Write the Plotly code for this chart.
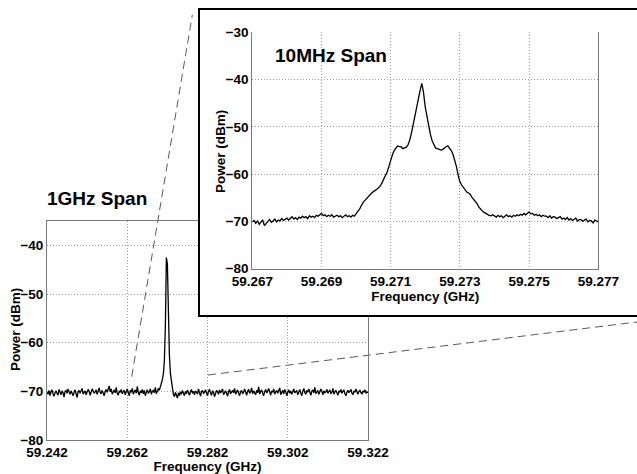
import numpy as np
import plotly.graph_objects as go

# ---------------- data ----------------
main_f_start, main_f_stop = 59.242, 59.322   # GHz, analyzer sweep shown (80 MHz window)
main_power = [
    -70.2,-70.6,-69.8,-70.9,-70.1,-69.7,-70.5,-71.0,-70.3,-69.9,-70.4,-70.8,-69.6,-70.2,-70.7,-69.9,-70.3,-71.2,-70.0,-69.8,
    -70.4,-69.5,-70.1,-70.6,-69.9,-70.3,-70.9,-70.2,-69.7,-70.5,-71.3,-70.1,-69.8,-70.4,-70.0,-69.4,-70.6,-70.2,-69.9,-70.7,
    -70.3,-69.6,-70.0,-70.8,-70.2,-69.5,-69.9,-70.4,-70.1,-69.7,-70.6,-70.0,-69.3,-70.2,-70.5,-69.8,-70.3,-70.9,-70.1,-69.6,
    -70.2,-69.4,-68.9,-70.1,-69.5,-70.6,-70.0,-69.7,-70.3,-69.2,-70.4,-70.8,-69.9,-70.2,-69.6,-70.5,-70.1,-69.8,-70.7,-70.0,
    -69.5,-70.3,-70.9,-69.8,-70.2,-69.4,-70.6,-70.1,-69.7,-70.4,-69.0,-70.2,-70.8,-69.9,-70.3,-69.6,-70.5,-69.8,-70.9,-70.2,
    -69.7,-70.4,-70.1,-69.5,-70.6,-70.0,-69.8,-70.3,-69.2,-70.5,-69.9,-69.4,-69.8,-69.2,-68.5,-67.6,-66.4,-63.8,-56.5,-42.5,
    -43.8,-55.2,-62.5,-66.3,-67.8,-68.9,-70.6,-71.1,-70.2,-70.8,-71.4,-70.3,-70.9,-70.1,-70.6,-69.8,-70.4,-70.9,-70.0,-70.5,
    -69.7,-70.3,-70.8,-70.1,-69.6,-70.4,-70.0,-70.7,-69.9,-70.2,-70.6,-69.5,-70.3,-71.0,-70.1,-69.8,-70.4,-70.2,-69.7,-70.5,
    -70.9,-70.0,-69.6,-70.3,-70.8,-69.9,-70.2,-71.1,-70.4,-69.8,-70.1,-70.6,-69.7,-70.3,-70.0,-69.5,-70.7,-70.2,-69.9,-70.4,
    -71.0,-70.1,-69.6,-70.5,-70.2,-69.8,-70.3,-69.4,-70.6,-70.0,-69.7,-70.4,-70.9,-70.1,-69.8,-70.5,-70.2,-69.5,-70.3,-70.8,
    -70.0,-69.6,-70.4,-70.1,-69.3,-70.5,-69.9,-70.2,-70.7,-69.8,-70.3,-69.1,-70.6,-70.0,-69.7,-70.4,-70.9,-70.1,-69.6,-70.3,
    -70.0,-69.4,-70.5,-70.8,-69.9,-70.2,-69.5,-70.6,-70.1,-69.8,-70.4,-70.0,-69.3,-70.7,-70.2,-69.8,-70.5,-69.6,-70.1,-70.9,
    -70.2,-69.7,-70.4,-69.9,-70.6,-70.1,-69.5,-70.3,-70.0,-69.8,-70.7,-70.2,-69.6,-70.4,-70.9,-70.0,-69.4,-70.3,-70.6,-69.9,
    -70.1,-69.5,-70.4,-70.8,-70.0,-69.7,-70.3,-69.2,-70.5,-70.1,-69.8,-70.6,-70.2,-69.5,-70.0,-70.7,-69.9,-70.3,-70.1,-69.6,
    -70.4,-70.0,-69.7,-70.5,-70.2,-69.4,-70.6,-70.1,-69.8,-70.3,-70.8,-69.9,-70.2,-69.6,-70.4,-70.0,-69.7,-70.5,-70.9,-70.2,
    -69.8,-70.3,-70.0,-69.6,-70.4,-70.7,-69.9,-70.2,-69.5,-70.1,-70.6,-70.0,-69.8,-70.3,-70.5,-69.9,-70.2,-69.7,-70.4,-70.1,
    -70.3,
]

inset_f_start, inset_f_stop = 59.267, 59.277  # GHz, 10 MHz span
inset_power = [
    -70.1,-69.8,-70.4,-69.9,-70.6,-70.2,-69.7,-70.9,-70.3,-70.0,-69.6,-70.2,-69.9,-69.5,-70.1,-69.7,-69.9,-69.4,-69.8,-69.6,
    -69.3,-69.7,-69.4,-69.0,-69.5,-69.2,-69.6,-69.1,-69.3,-68.9,-69.2,-69.0,-69.4,-68.8,-69.1,-68.9,-69.2,-68.7,-68.9,-68.5,
    -68.3,-68.8,-68.6,-69.0,-68.7,-68.9,-68.6,-69.1,-68.8,-68.7,-69.0,-68.8,-69.2,-68.9,-68.6,-69.0,-68.8,-69.1,-68.7,-68.9,
    -68.5,-67.9,-67.4,-66.6,-66.0,-65.6,-65.2,-64.6,-64.3,-64.0,-63.7,-63.5,-63.2,-62.9,-62.5,-61.8,-61.0,-60.3,-59.5,-58.3,
    -57.0,-55.9,-55.0,-54.4,-54.0,-54.2,-54.2,-54.6,-54.5,-54.3,-53.8,-52.8,-51.3,-49.5,-47.2,-45.6,-44.3,-42.3,-40.8,-42.8,
    -45.9,-48.0,-50.0,-51.7,-53.0,-53.9,-54.5,-54.6,-54.7,-54.9,-54.8,-54.4,-54.2,-54.0,-54.4,-55.0,-55.8,-57.0,-58.4,-60.2,
    -61.6,-62.3,-62.8,-63.5,-63.8,-64.0,-64.3,-64.9,-65.3,-65.7,-66.3,-67.0,-67.5,-67.8,-68.1,-68.4,-68.5,-68.7,-68.8,-68.6,
    -68.9,-69.1,-68.7,-69.0,-68.8,-69.2,-68.9,-68.6,-69.0,-68.8,-69.1,-68.7,-68.9,-68.6,-68.8,-68.5,-68.7,-68.3,-68.6,-68.2,
    -68.0,-68.4,-68.3,-68.7,-68.5,-68.8,-68.6,-69.0,-68.7,-68.9,-68.9,-69.2,-68.8,-69.3,-69.0,-69.1,-69.4,-69.2,-69.0,-69.5,
    -69.3,-69.6,-69.2,-69.7,-69.4,-69.8,-69.5,-69.3,-69.9,-69.6,-69.6,-70.0,-69.7,-69.5,-70.1,-69.8,-69.9,-70.3,-69.7,-70.0,
    -70.1,
]

main_xticks = [59.242, 59.262, 59.282, 59.302, 59.322]
main_yticks = [-80, -70, -60, -50, -40]
inset_xticks = [59.267, 59.269, 59.271, 59.273, 59.275, 59.277]
inset_yticks = [-80, -70, -60, -50, -40, -30]

main_title = "1GHz Span"
inset_title = "10MHz Span"
x_title = "Frequency (GHz)"
y_title = "Power (dBm)"

# uniform sweep grids
main_freq = np.linspace(main_f_start, main_f_stop, len(main_power))
inset_freq = np.linspace(inset_f_start, inset_f_stop, len(inset_power))

# ---------------- figure ----------------
W, H = 637, 474
def px_x(p): return p / W
def px_y(p): return 1 - p / H

FONT = "Liberation Sans"
tickfont = dict(family=FONT, size=13.5, color="black", weight="bold")
titlefont = dict(family=FONT, size=13.5, color="black", weight="bold")
AXC = "#7a7a7a"
GRIDC = "#9a9a9a"

fig = go.Figure()
fig.add_trace(go.Scatter(x=main_freq, y=main_power, mode="lines",
                         line=dict(color="black", width=1.3),
                         xaxis="x", yaxis="y", showlegend=False, hoverinfo="skip"))
# empty trace that carries the inset frame subplot
fig.add_trace(go.Scatter(x=[], y=[], mode="lines", xaxis="x2", yaxis="y2",
                         showlegend=False, hoverinfo="skip"))
fig.add_trace(go.Scatter(x=inset_freq, y=inset_power, mode="lines",
                         line=dict(color="black", width=1.3),
                         xaxis="x3", yaxis="y3", showlegend=False, hoverinfo="skip"))

common = dict(showgrid=True, gridcolor=GRIDC, griddash="1px,2px", gridwidth=1,
              zeroline=False, showline=True, linecolor=AXC, linewidth=1,
              ticks="", tickfont=tickfont, fixedrange=True, automargin=False)
frame = dict(range=[0, 1], showgrid=False, zeroline=False, showticklabels=False, ticks="",
             showline=True, linecolor="black", linewidth=2, fixedrange=True, automargin=False)

fig.update_layout(
    width=W, height=H,
    margin=dict(l=0, r=0, t=0, b=0, autoexpand=False),
    paper_bgcolor="white", plot_bgcolor="white",
    showlegend=False,
    xaxis=dict(domain=[px_x(47), px_x(368)], range=[main_f_start, main_f_stop],
               tickvals=main_xticks, ticktext=[f"{v:.3f}" for v in main_xticks],
               anchor="y", mirror=True,
               title=dict(text=x_title, font=titlefont, standoff=1), **common),
    yaxis=dict(domain=[px_y(440), px_y(221)], range=[-80, -35],
               tickvals=main_yticks, anchor="x", mirror=True, **common),
    xaxis2=dict(domain=[px_x(200), 1.0], anchor="y2", mirror=True, **frame),
    yaxis2=dict(domain=[px_y(315), px_y(10)], anchor="x2", mirror=False, **frame),
    xaxis3=dict(domain=[px_x(252.3), px_x(598.3)], range=[inset_f_start, inset_f_stop],
                tickvals=inset_xticks, ticktext=[f"{v:.3f}" for v in inset_xticks],
                anchor="y3", mirror=False,
                title=dict(text=x_title, font=titlefont, standoff=1), **common),
    yaxis3=dict(domain=[px_y(268.7), px_y(32.3)], range=[-80, -30],
                tickvals=inset_yticks, anchor="x3", mirror=True, **common),
)

# y-axis titles (placed as rotated annotations for exact positioning)
fig.add_annotation(text=y_title, xref="paper", yref="paper", x=px_x(15), y=px_y(330),
                   xanchor="center", yanchor="middle", textangle=-90, showarrow=False,
                   font=titlefont)
fig.add_annotation(text=y_title, xref="paper", yref="paper", x=px_x(220), y=px_y(152),
                   xanchor="center", yanchor="middle", textangle=-90, showarrow=False,
                   font=titlefont)

fig.add_annotation(text=main_title, xref="paper", yref="paper",
                   x=px_x(45), y=px_y(198), xanchor="left", yanchor="middle",
                   showarrow=False, font=dict(family=FONT, size=19, color="black", weight="bold"))
fig.add_annotation(text=inset_title, xref="paper", yref="paper",
                   x=px_x(273), y=px_y(55), xanchor="left", yanchor="middle",
                   showarrow=False, font=dict(family=FONT, size=19, color="black", weight="bold"))

# zoom indicator dashed lines
dash_line = dict(color="#5a5a5a", width=1, dash="8px,5px")
fig.add_shape(type="line", xref="paper", yref="paper",
              x0=px_x(131.7), y0=px_y(376.7), x1=px_x(192.3), y1=px_y(15),
              line=dash_line, layer="above")
fig.add_shape(type="line", xref="paper", yref="paper",
              x0=px_x(208), y0=px_y(375), x1=1.0, y1=px_y(322),
              line=dash_line, layer="below")

# remove the browser's default 8px body margin so the figure sits at the page origin
fig.write_html("out.html", config={"displayModeBar": False},
               post_script="document.body.style.margin='0px';")
